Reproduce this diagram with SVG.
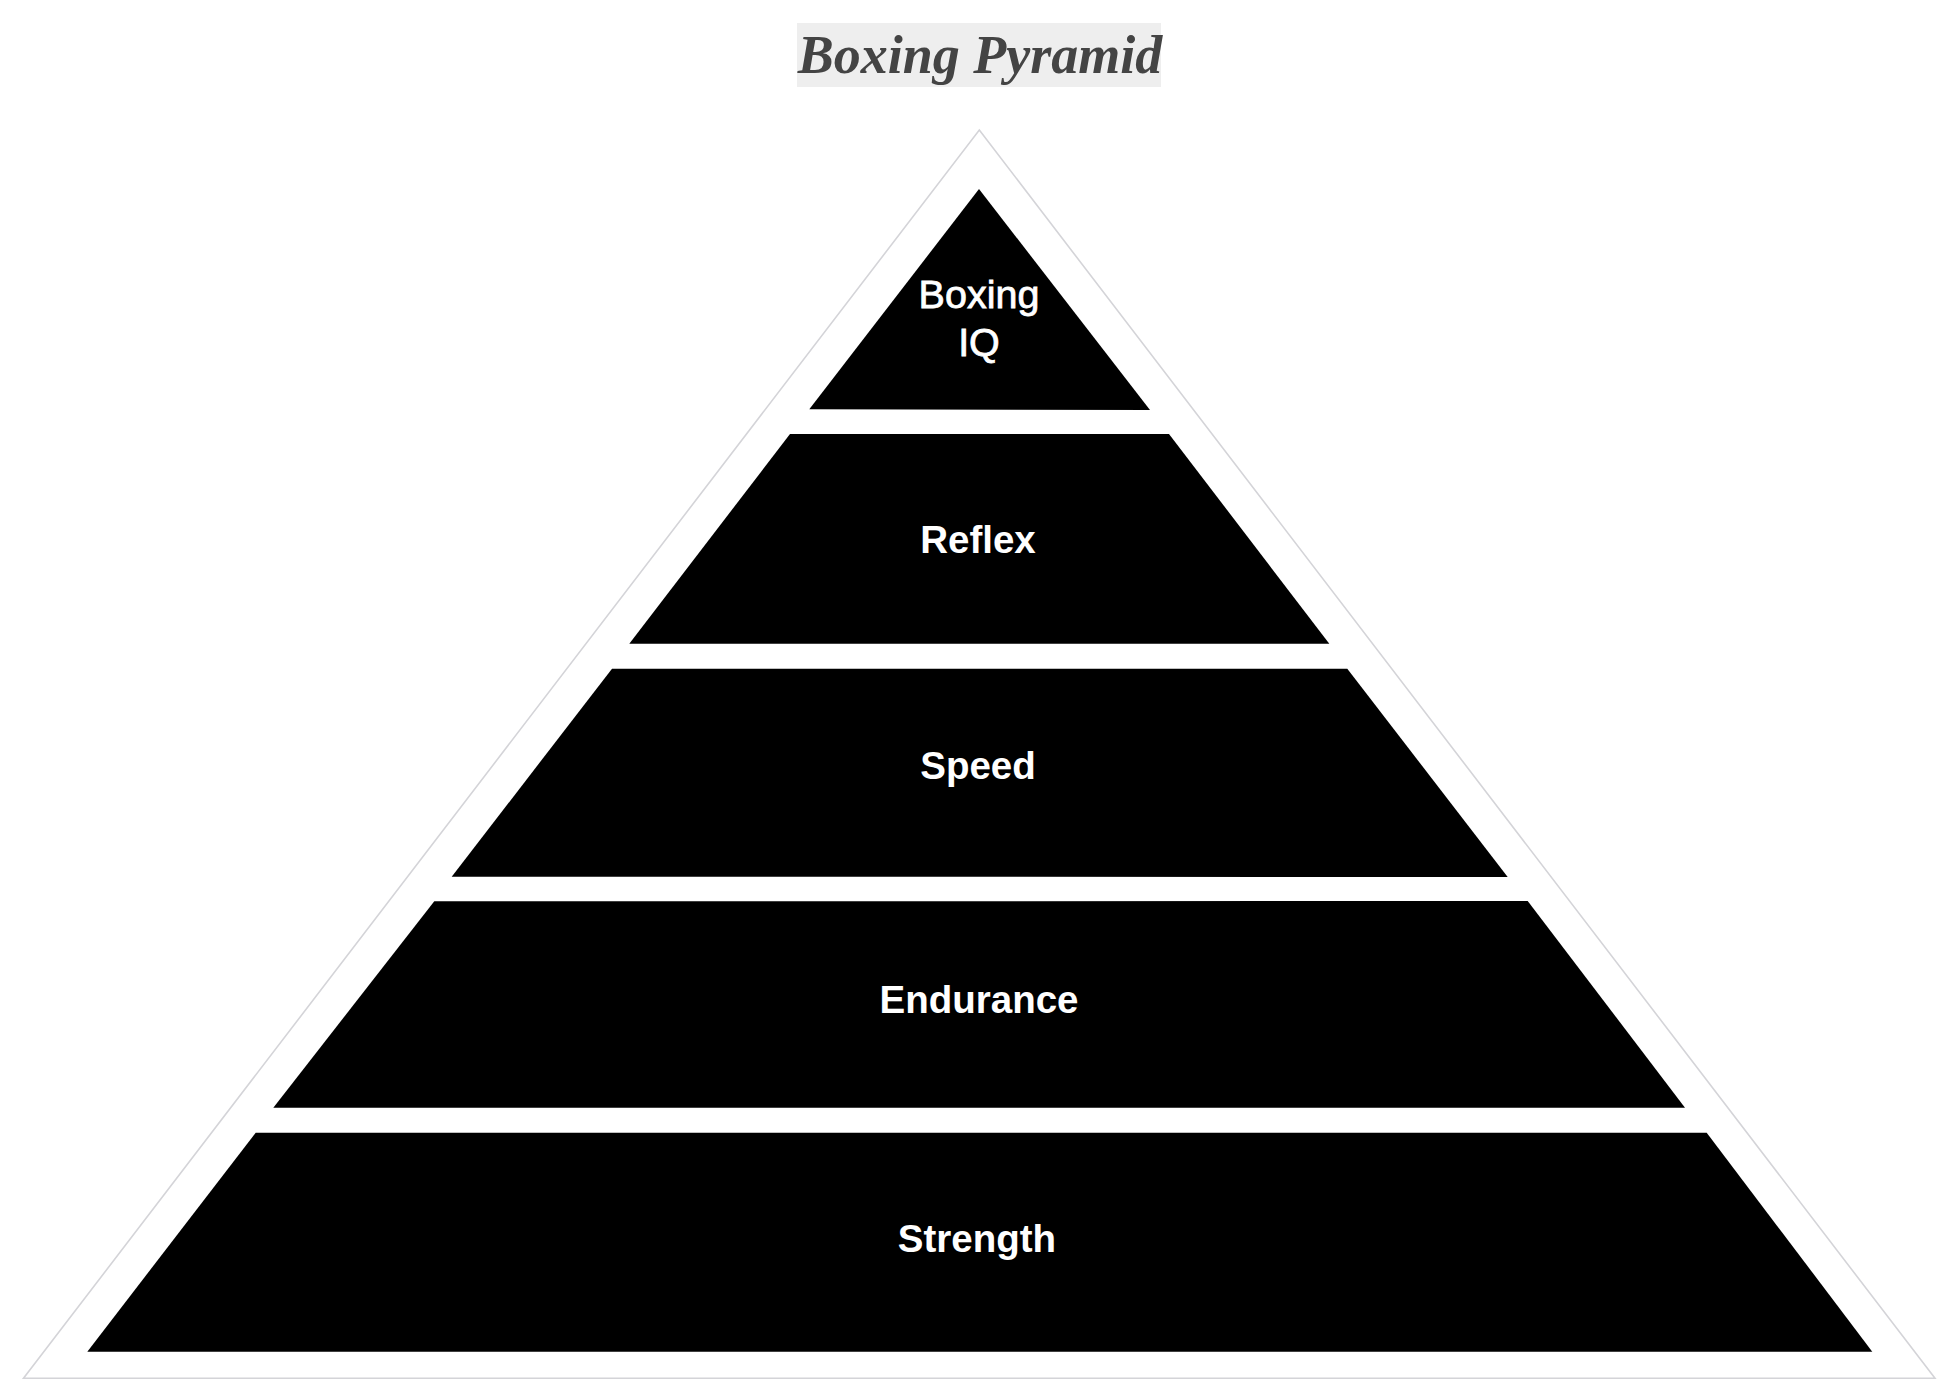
<svg xmlns="http://www.w3.org/2000/svg" width="1954" height="1394" viewBox="0 0 1954 1394">
  <style>
    .frame { fill: none; stroke: #d4d4d8; stroke-width: 1.6; }
    .tier { fill: #000000; stroke: none; }
    .lbl { font-family: "Liberation Sans", Arial, Helvetica, sans-serif; font-size: 38.5px; font-weight: bold; fill: #ffffff; text-anchor: middle; }
    .lbl-top { font-family: "Liberation Sans", Arial, Helvetica, sans-serif; font-size: 39.5px; font-weight: normal; fill: #ffffff; stroke: #ffffff; stroke-width: 0.8; text-anchor: middle; }
    .title { font-family: "Liberation Serif", "Times New Roman", serif; font-size: 54px; font-weight: bold; font-style: italic; fill: #444444; text-anchor: middle; }
  </style>
  <rect width="1954" height="1394" fill="#ffffff"/>
  <g id="title">
    <rect x="797" y="23" width="364" height="64" fill="#eeeeee"/>
    <text class="title" x="980" y="73">Boxing Pyramid</text>
  </g>
  <g id="outline">
    <polygon class="frame" points="979.3,130 1935,1378.3 23.5,1378.3"/>
  </g>
  <g id="tier-boxing-iq">
    <polygon class="tier" points="979,189 1150,410 809.3,409.3"/>
    <text class="lbl-top" x="979" y="308">Boxing</text>
    <text class="lbl-top" x="979" y="355.5">IQ</text>
  </g>
  <g id="tier-reflex">
    <polygon class="tier" points="790,434 1169,434 1329.3,643.7 629.3,643.7"/>
    <text class="lbl" x="978" y="553">Reflex</text>
  </g>
  <g id="tier-speed">
    <polygon class="tier" points="612,668.7 1347.3,668.7 1507.7,877 451.7,876.7"/>
    <text class="lbl" x="978" y="779">Speed</text>
  </g>
  <g id="tier-endurance">
    <polygon class="tier" points="434.3,901.3 1527.7,901 1685,1107.7 273.3,1107.7"/>
    <text class="lbl" x="979" y="1013">Endurance</text>
  </g>
  <g id="tier-strength">
    <polygon class="tier" points="255.7,1132.7 1706.7,1132.7 1872.3,1351.7 87.3,1351.7"/>
    <text class="lbl" x="977" y="1251.5">Strength</text>
  </g>
  <g id="connectors"/>
</svg>
